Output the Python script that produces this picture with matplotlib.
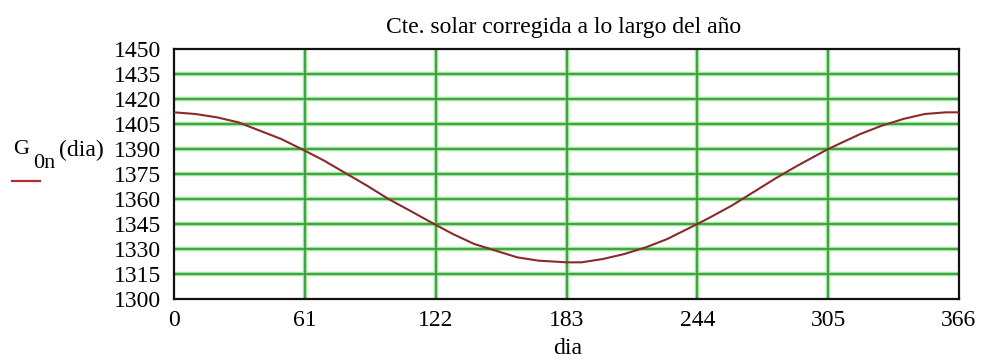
import matplotlib
matplotlib.use("Agg")
import matplotlib.pyplot as plt

# Values
dias = [0, 10, 20, 30, 40, 50, 61, 70, 80, 90, 100, 110, 122, 130, 140, 150, 160, 170, 183,
        190, 200, 210, 220, 230, 244, 250, 260, 270, 280, 290, 305, 310, 320, 330, 340, 350,
        360, 366]
g0n = [1412, 1411, 1409, 1406, 1401, 1396, 1389, 1383, 1375.5, 1368, 1360, 1353, 1344.5,
       1339, 1333, 1329, 1325, 1323, 1322, 1322, 1324, 1327, 1331, 1336, 1345, 1349, 1356,
       1364, 1372, 1379.5, 1390, 1393, 1399, 1404, 1408, 1411, 1412, 1412]

xticks = [0, 61, 122, 183, 244, 305, 366]
yticks = [1300, 1315, 1330, 1345, 1360, 1375, 1390, 1405, 1420, 1435, 1450]

title = "Cte. solar corregida a lo largo del año"
xlabel = "dia"

serif = ["Liberation Serif", "DejaVu Serif"]
plt.rcParams["font.family"] = serif

fig = plt.figure(figsize=(9.81, 3.63), dpi=100)
ax = fig.add_axes([174 / 981, 1 - 299 / 363, (959 - 174) / 981, (299 - 49) / 363])

ax.set_xlim(0, 366)
ax.set_ylim(1300, 1450)
ax.set_xticks(xticks)
ax.set_yticks(yticks)
ax.tick_params(length=0, labelsize=17, pad=9)
ax.tick_params(axis="x", pad=8)

for t in xticks[1:-1]:
    ax.axvline(t, color="#9be89b", lw=3.2, zorder=1)
    ax.axvline(t, color="#3f9a3f", lw=1.3, zorder=1.1)
for t in yticks[1:-1]:
    ax.axhline(t, color="#9be89b", lw=3.2, zorder=1)
    ax.axhline(t, color="#3f9a3f", lw=1.3, zorder=1.1)

ax.plot(dias, g0n, color="#8a2a2a", lw=1.5, zorder=3, solid_joinstyle="round")

for s in ax.spines.values():
    s.set_color("#111111")
    s.set_linewidth(1.6)

fig.text(564 / 981, 1 - 28 / 363, title, ha="center", va="center", fontsize=17)
fig.text(568 / 981, 1 - 349 / 363, xlabel, ha="center", va="center", fontsize=17)

# y-axis label G_0n(dia) with legend line
fig.text(13 / 981, 1 - 150 / 363, "G", ha="left", va="center", fontsize=16)
fig.text(33 / 981, 1 - 163 / 363, "0n", ha="left", va="center", fontsize=16)
fig.text(59 / 981, 1 - 150 / 363, "(dia)", ha="left", va="center", fontsize=17)
fig.add_artist(plt.Line2D([12 / 981, 40 / 981], [1 - 181 / 363, 1 - 181 / 363],
                          color="#b03030", lw=1.6, transform=fig.transFigure))

fig.savefig("out.png", dpi=100)
